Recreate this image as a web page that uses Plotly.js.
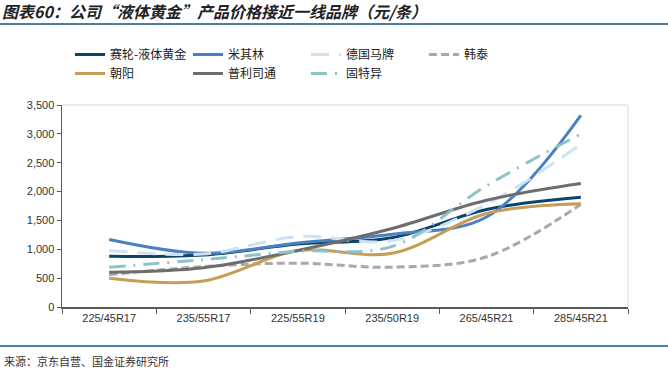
<!DOCTYPE html>
<html><head><meta charset="utf-8">
<script src="https://cdn.plot.ly/plotly-3.0.1.min.js"></script>
<style>html,body{margin:0;padding:0;background:#fff;}#chart{width:668px;height:376px;}</style>
</head><body><div id="chart"></div>
<script>
const categories = ['225/45R17','235/55R17','225/55R19','235/50R19','265/45R21','285/45R21'];
const sailun     = [880, 900, 1090, 1200, 1690, 1900];
const michelin   = [1170, 930, 1110, 1260, 1560, 3320];
const continental= [980, 920, 1220, 1150, 1780, 2820];
const hankook    = [560, 700, 760, 690, 870, 1780];
const chaoyang   = [500, 450, 980, 930, 1620, 1790];
const bridgestone= [600, 680, 980, 1360, 1850, 2140];
const goodyear   = [690, 820, 965, 1050, 2100, 3000];
const seriesNames = ['赛轮-液体黄金','米其林','德国马牌','韩泰','朝阳','普利司通','固特异'];
const yTicks = [0,500,1000,1500,2000,2500,3000,3500];

const W=668,H=376, L=62, R=40, T=105, B=69;
const pw=W-L-R, ph=H-T-B;
const px=x=>(x-L)/pw, py=y=>(H-B-y)/ph;

const styles = [
  {color:'#0b4468', dash:'solid', width:3},
  {color:'#4a80c4', dash:'solid', width:3},
  {color:'#cfe2f3', dash:'18px,10px', width:3},
  {color:'#a9a9a9', dash:'8px,4px', width:3},
  {color:'#c59d57', dash:'solid', width:3},
  {color:'#6d6d6d', dash:'solid', width:3},
  {color:'#8dc2c9', dash:'16px,8px,2px,8px', width:3},
];
const values = [sailun, michelin, continental, hankook, chaoyang, bridgestone, goodyear];
const traces = values.map((v,i)=>({
  type:'scatter', mode:'lines', x:categories, y:v, name:seriesNames[i],
  line:{color:styles[i].color, dash:styles[i].dash, width:styles[i].width, shape:'spline', smoothing:1},
  hoverinfo:'skip'
}));

const layout = {
  width:W, height:H, margin:{l:L, r:R, t:T, b:B},
  paper_bgcolor:'#fff', plot_bgcolor:'#fff',
  font:{family:'"Liberation Sans", Arial, "Noto Sans CJK SC", sans-serif', size:11, color:'#333'},
  title:{text:'<b><i>图表60：公司“液体黄金”产品价格接近一线品牌（元/条）</i></b>',
    font:{family:'"Noto Sans CJK SC", sans-serif', size:16, color:'#222'},
    xref:'container', yref:'container', x:0.003, xanchor:'left', y:1-12.5/H, yanchor:'middle'},
  showlegend:true,
  legend:{orientation:'h', x:px(70), y:py(40), xanchor:'left', yanchor:'top',
    font:{family:'"Noto Sans CJK SC", sans-serif', size:12, color:'#222'},
    entrywidth:73, entrywidthmode:'pixels', traceorder:'normal', tracegroupgap:0, itemwidth:30, bgcolor:'rgba(0,0,0,0)'},
  xaxis:{type:'category', showgrid:false, zeroline:false, showline:true, linecolor:'#595959', linewidth:1.5,
    ticks:'outside', ticklen:5, tickcolor:'#595959', tickson:'boundaries', mirror:false,
    tickfont:{size:11, color:'#333'}, fixedrange:true, range:[-0.5,5.5]},
  yaxis:{range:[0,3500], tickvals:yTicks, tickformat:',', showgrid:false, zeroline:false,
    showline:true, linecolor:'#595959', linewidth:1.5, ticks:'outside', ticklen:4, tickcolor:'#595959',
    tickfont:{size:11, color:'#333'}, fixedrange:true},
  shapes:[
    {type:'line', xref:'paper', yref:'paper', x0:px(0), x1:px(W), y0:py(24), y1:py(24), line:{color:'#4f7fa3', width:2}},
    {type:'line', xref:'paper', yref:'paper', x0:px(0), x1:px(W), y0:py(346), y1:py(346), line:{color:'#4f7fa3', width:2}},
    {type:'line', xref:'paper', yref:'paper', x0:0, x1:1, y0:1, y1:1, line:{color:'#d9d9d9', width:1}},
    {type:'line', xref:'paper', yref:'paper', x0:1, x1:1, y0:0, y1:1, line:{color:'#d9d9d9', width:1}}
  ],
  annotations:[
    {text:'来源：京东自营、国金证券研究所', xref:'paper', yref:'paper', x:px(2), y:py(361), xanchor:'left', yanchor:'middle',
     showarrow:false, font:{family:'"Noto Sans CJK SC", sans-serif', size:11, color:'#333'}}
  ]
};
Plotly.newPlot('chart', traces, layout, {staticPlot:true, displayModeBar:false});
</script></body></html>
